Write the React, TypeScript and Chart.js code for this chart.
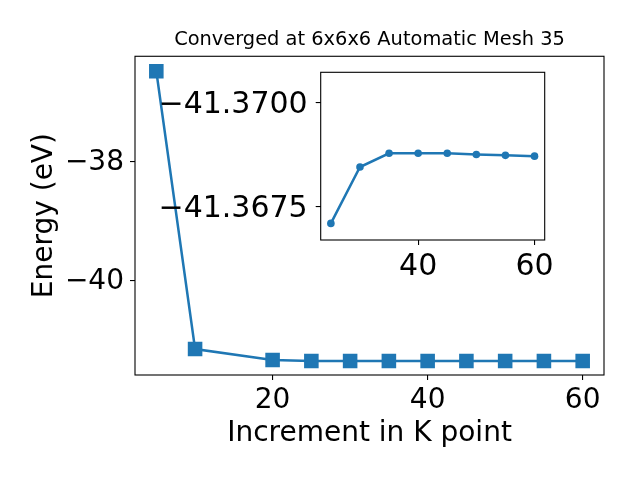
import React, { useEffect, useRef } from "react";
import { Chart, registerables } from "chart.js";

Chart.register(...registerables);

// ---- data ----
const kPoints = [5, 10, 20, 25, 30, 35, 40, 45, 50, 55, 60];
const energies = [-36.487, -41.16, -41.345, -41.361, -41.361, -41.361, -41.361, -41.361, -41.361, -41.361, -41.361];
const insetKPoints = [25, 30, 35, 40, 45, 50, 55, 60];
const insetEnergies = [-41.3671, -41.36845, -41.36878, -41.36878, -41.36878, -41.36875, -41.36873, -41.36871];
const mainXTicks = [20, 40, 60];
const mainYTicks = [-40, -38];
const insetXTicks = [40, 60];
const insetYTicks = [-41.37, -41.3675];
const titleText = "Converged at 6x6x6 Automatic Mesh 35";
const xLabel = "Increment in K point";
const yLabel = "Energy (eV)";

const BLUE = "#1f77b4";
const FAMILY = "'DejaVu Sans', sans-serif";

const minus = (s: string) => s.replace("-", "\u2212");

const framePlugin = {
  id: "frame",
  afterDatasetsDraw(chart: any) {
    const { ctx, chartArea: a } = chart;
    ctx.save();
    ctx.strokeStyle = "#000";
    ctx.lineWidth = 1.1;
    ctx.strokeRect(a.left, a.top, a.right - a.left, a.bottom - a.top);
    ctx.restore();
  },
};

const whiteBgPlugin = {
  id: "whitebg",
  beforeDraw(chart: any) {
    const { ctx, chartArea: a } = chart;
    ctx.save();
    ctx.fillStyle = "#fff";
    ctx.fillRect(a.left, a.top, a.right - a.left, a.bottom - a.top);
    ctx.restore();
  },
};

const tickGrid = {
  display: true,
  drawOnChartArea: false,
  drawTicks: true,
  tickLength: 5,
  color: "#000",
  lineWidth: 1.1,
};

export default function App() {
  const mainRef = useRef<HTMLCanvasElement>(null);
  const insetRef = useRef<HTMLCanvasElement>(null);

  useEffect(() => {
    const main = new Chart(mainRef.current as HTMLCanvasElement, {
      type: "line",
      data: {
        datasets: [
          {
            data: kPoints.map((k, i) => ({ x: k, y: energies[i] })),
            borderColor: BLUE,
            backgroundColor: BLUE,
            borderWidth: 2.5,
            pointStyle: "rect",
            pointRadius: 10.3,
            pointHoverRadius: 10.3,
            pointBorderWidth: 0,
            fill: false,
            tension: 0,
          },
        ],
      },
      options: {
        responsive: false,
        animation: false,
        devicePixelRatio: 1,
        events: [],
        layout: { padding: { top: 0, right: 36, bottom: 0, left: 0 } },
        plugins: {
          legend: { display: false },
          tooltip: { enabled: false },
          title: {
            display: true,
            text: titleText,
            fullSize: false,
            color: "#000",
            font: { family: FAMILY, size: 19.4, weight: "normal", lineHeight: 1.2 },
            padding: { top: 28.4, bottom: 4.6 },
          },
        },
        scales: {
          x: {
            type: "linear",
            min: 2.25,
            max: 62.75,
            afterBuildTicks: (s: any) => {
              s.ticks = mainXTicks.map((v) => ({ value: v }));
            },
            afterFit: (s: any) => {
              s.height = 105;
            },
            grid: tickGrid,
            border: { display: false },
            ticks: {
              color: "#000",
              font: { family: FAMILY, size: 28 },
              padding: 4,
              maxRotation: 0,
              callback: (v: any) => minus(String(v)),
            },
            title: {
              display: true,
              text: xLabel,
              color: "#000",
              font: { family: FAMILY, size: 28, lineHeight: 1.2 },
              padding: { top: 0, bottom: 29 },
            },
          },
          y: {
            type: "linear",
            min: -41.597,
            max: -36.235,
            afterBuildTicks: (s: any) => {
              s.ticks = mainYTicks.map((v) => ({ value: v }));
            },
            afterFit: (s: any) => {
              s.width = 135;
            },
            grid: tickGrid,
            border: { display: false },
            ticks: {
              color: "#000",
              font: { family: FAMILY, size: 28 },
              padding: 6,
              labelOffset: 2,
              callback: (v: any) => minus(Number(v).toFixed(0)),
            },
            title: {
              display: true,
              text: yLabel,
              color: "#000",
              font: { family: FAMILY, size: 28, lineHeight: 1.2 },
              padding: { top: 28, bottom: 0 },
            },
          },
        },
      },
      plugins: [framePlugin],
    } as any);

    const inset = new Chart(insetRef.current as HTMLCanvasElement, {
      type: "line",
      data: {
        datasets: [
          {
            data: insetKPoints.map((k, i) => ({ x: k, y: insetEnergies[i] })),
            borderColor: BLUE,
            backgroundColor: BLUE,
            borderWidth: 2.5,
            pointStyle: "circle",
            pointRadius: 3.8,
            pointHoverRadius: 3.8,
            pointBorderWidth: 0,
            fill: false,
            tension: 0,
          },
        ],
      },
      options: {
        responsive: false,
        animation: false,
        devicePixelRatio: 1,
        events: [],
        layout: { padding: { top: 72.3, right: 95.3, bottom: 0, left: 0 } },
        plugins: {
          legend: { display: false },
          tooltip: { enabled: false },
          title: { display: false },
        },
        scales: {
          x: {
            type: "linear",
            min: 23.25,
            max: 61.75,
            afterBuildTicks: (s: any) => {
              s.ticks = insetXTicks.map((v) => ({ value: v }));
            },
            afterFit: (s: any) => {
              s.height = 240;
            },
            grid: tickGrid,
            border: { display: false },
            ticks: {
              color: "#000",
              font: { family: FAMILY, size: 30 },
              padding: 4,
              maxRotation: 0,
              callback: (v: any) => minus(String(v)),
            },
          },
          y: {
            type: "linear",
            reverse: true,
            min: -41.370718,
            max: -41.366703,
            afterBuildTicks: (s: any) => {
              s.ticks = insetYTicks.map((v) => ({ value: v }));
            },
            afterFit: (s: any) => {
              s.width = 320.7;
            },
            grid: tickGrid,
            border: { display: false },
            ticks: {
              color: "#000",
              font: { family: FAMILY, size: 30 },
              padding: 8,
              labelOffset: 2.5,
              callback: (v: any) => minus(Number(v).toFixed(4)),
            },
          },
        },
      },
      plugins: [whiteBgPlugin, framePlugin],
    } as any);

    return () => {
      main.destroy();
      inset.destroy();
    };
  }, []);

  return (
    <div style={{ position: "fixed", left: 0, top: 0, width: 640, height: 480, background: "#fff" }}>
      <canvas ref={mainRef} width={640} height={480} style={{ position: "absolute", left: 0, top: 0, width: 640, height: 480 }} />
      <canvas ref={insetRef} width={640} height={480} style={{ position: "absolute", left: 0, top: 0, width: 640, height: 480 }} />
    </div>
  );
}
